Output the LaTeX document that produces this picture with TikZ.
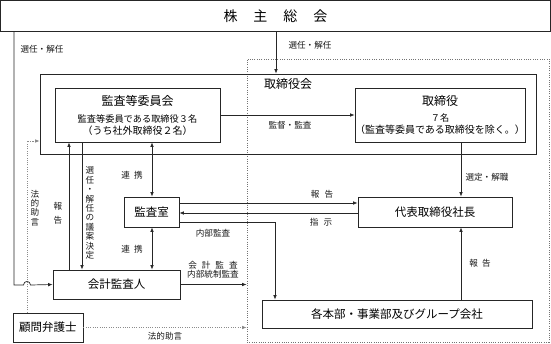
\documentclass[tikz,border=0pt]{standalone}
\usepackage{fontspec}
\setmainfont{Noto Sans CJK JP}
\usetikzlibrary{arrows.meta,calc}
\tikzset{
  box/.style={draw=black!85, line width=0.8pt, inner sep=0pt, fill=none},
  dotbox/.style={draw=black!55, line width=0.8pt, dash pattern=on 1pt off 1.3pt, inner sep=0pt},
  lbl/.style={font=\fontsize{8.6}{9.4}\selectfont, inner sep=0pt, text=black!90},
  ln/.style={draw=black!85, line width=0.7pt},
  arr/.style={ln, -{Latex[length=4.5pt,width=3.6pt]}},
  darr/.style={ln, {Latex[length=4.5pt,width=3.6pt]}-{Latex[length=4.5pt,width=3.6pt]}},
  dln/.style={draw=black!45, line width=0.8pt, dash pattern=on 1pt off 1.3pt},
  darrow/.style={dln, -{Latex[length=4.5pt,width=3.6pt,fill=black!85]}},
}
\begin{document}
\begin{tikzpicture}[x=1pt,y=-1pt]
\useasboundingbox (0,0) rectangle (551,343);
% group boundary
\node[dotbox, minimum width=302pt, minimum height=283pt] (grp) at (398,200.5) {};
% shareholders
\node[box, minimum width=549.5pt, minimum height=30.5pt, font=\fontsize{14}{16}\selectfont] (sh) at (275.5,15.8)
  {株\hspace{16pt}主\hspace{16pt}総\hspace{16pt}会};
% board
\node[box, minimum width=496pt, minimum height=80pt] (board) at (288,114) {};
\node[inner sep=0pt, font=\fontsize{12}{14}\selectfont] (boardlbl) at (288,84) {取締役会};
% audit committee
\node[box, minimum width=165pt, minimum height=54pt, align=center] (kansa) at (137.5,115)
  {\fontsize{12}{14}\selectfont 監査等委員会\\[5pt]
   \fontsize{9.2}{12.5}\selectfont 監査等委員である取締役３名\\（うち社外取締役２名）};
% directors
\node[box, minimum width=164pt, minimum height=54pt, align=center] (tori) at (440,115)
  {\fontsize{12}{14}\selectfont 取締役\\[4pt]
   \fontsize{9.2}{12.5}\selectfont ７名\\（監査等委員である取締役を除く。）};
% president
\node[box, minimum width=154pt, minimum height=30pt, font=\fontsize{11.5}{13}\selectfont] (ceo) at (435,212) {代表取締役社長};
% audit office
\node[box, minimum width=55pt, minimum height=30pt, font=\fontsize{11.5}{13}\selectfont] (office) at (151.5,212) {監査室};
% accounting auditor
\node[box, minimum width=127pt, minimum height=29pt, font=\fontsize{11.5}{13}\selectfont] (auditor) at (116.5,284.5) {会計監査人};
% lawyer
\node[box, minimum width=70pt, minimum height=29pt, font=\fontsize{11.5}{13}\selectfont] (lawyer) at (48,327.5) {顧問弁護士};
% departments
\node[box, minimum width=270pt, minimum height=28pt, font=\fontsize{11.5}{13}\selectfont] (dept) at (397,314) {各本部・事業部及びグループ会社};

% coordinates
\coordinate (xl) at (14,285);
\coordinate (xlaw) at (27,141);
\coordinate (xsh) at (276,0);
\coordinate (xceo) at (461,0);
\coordinate (xrep) at (69,0);
\coordinate (xsel) at (82,0);
\coordinate (xlink) at (152,0);
\coordinate (yrep) at (0,203);
\coordinate (yins) at (0,213);
\coordinate (yint) at (0,222);
\coordinate (xint) at (275,0);

% shareholders -> board
\draw[arr] (sh.south -| xsh) -- (board.north -| xsh);
\node[lbl] at (310,45) {選任・解任};
% shareholders -> auditor (with hop)
\draw[arr] (sh.south -| xl) -- (xl) -- (23.5,285) .. controls (23.5,280.3) and (30.5,280.3) .. (30.5,285) -- (auditor.west);
\node[lbl] at (42,49) {選任・解任};
% lawyer -> board
\draw[darrow] (lawyer.north -| xlaw) -- (xlaw) -- (xlaw -| board.west);
\node[lbl, align=center] at (35,208) {法\\的\\助\\言};
% lawyer -> group
\draw[darrow] (lawyer.east) -- (lawyer.east -| grp.west);
\node[lbl] at (165,336) {法的助言};
% committee -> directors
\draw[arr] (kansa.east) -- (tori.west);
\node[lbl] at (290,125) {監督・監査};
% directors -> president
\draw[arr] (tori.south -| xceo) -- (ceo.north -| xceo);
\node[lbl] at (487,177) {選定・解職};
% departments -> president
\draw[arr] (dept.north -| xceo) -- (ceo.south -| xceo);
\node[lbl] at (480,263) {報\hspace{4pt}告};
% office <-> president
\draw[arr] (office.east |- yrep) -- (ceo.west |- yrep);
\node[lbl] at (322,194) {報\hspace{5pt}告};
\draw[arr] (ceo.west |- yins) -- (office.east |- yins);
\node[lbl] at (321,222) {指\hspace{5pt}示};
\draw[arr] (office.east |- yint) -- (xint |- yint) -- (dept.north -| xint);
\node[lbl] at (213,233) {内部監査};
% committee <-> office <-> auditor
\draw[darr] (kansa.south -| xlink) -- (office.north -| xlink);
\node[lbl] at (132,175) {連\hspace{4pt}携};
\draw[darr] (office.south -| xlink) -- (auditor.north -| xlink);
\node[lbl] at (132,249) {連\hspace{4pt}携};
% auditor <-> committee
\draw[arr] (auditor.north -| xrep) -- (kansa.south -| xrep);
\node[lbl, align=center] at (58,213) {報\\[5pt]告};
\draw[arr] (kansa.south -| xsel) -- (auditor.north -| xsel);
\node[lbl, align=center] at (90,213) {選\\任\\・\\解\\任\\の\\議\\案\\決\\定};
% auditor -> group
\draw[arr] (auditor.east) -- (auditor.east -| grp.west);
\node[lbl, align=center] at (213,270) {会\hspace{5pt}計\hspace{5pt}監\hspace{5pt}査\\内部統制監査};
\end{tikzpicture}
\end{document}
